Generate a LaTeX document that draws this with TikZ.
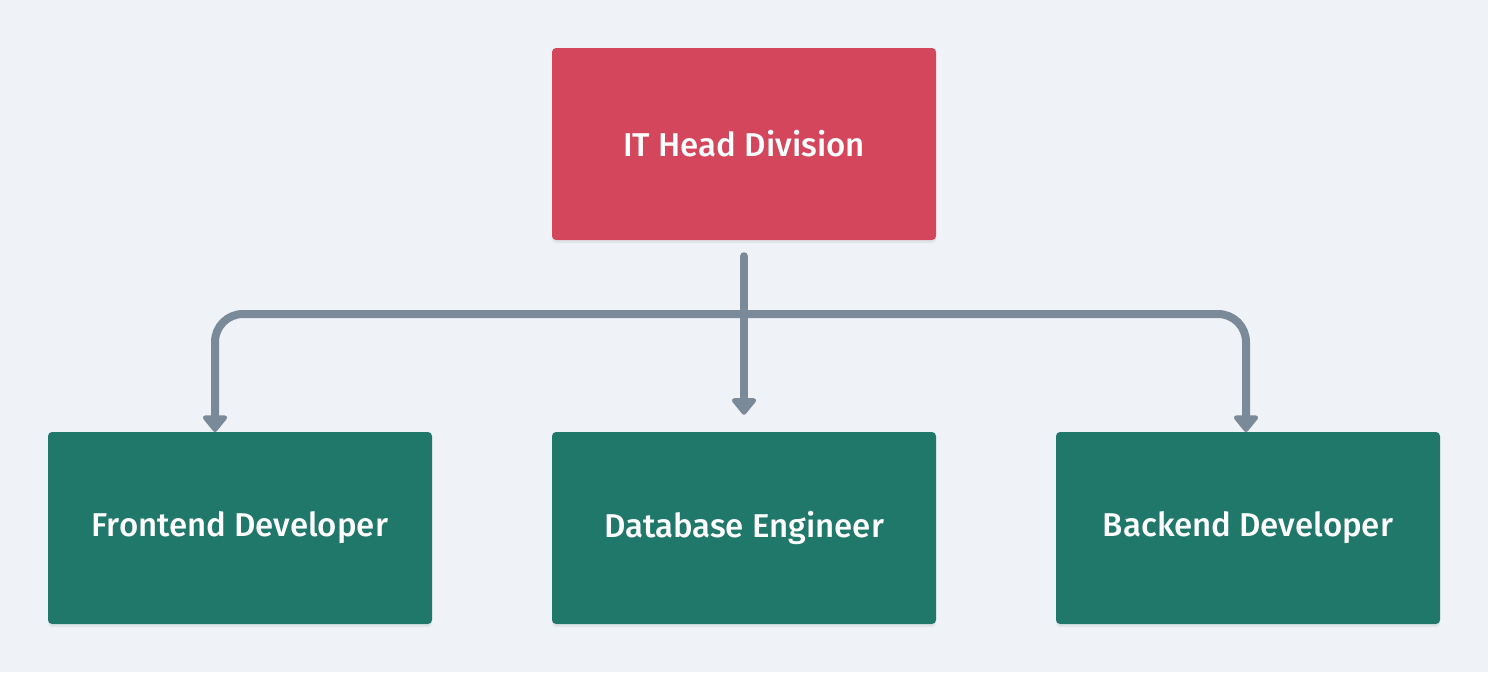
\documentclass[tikz,border=0pt]{standalone}
\usepackage{fontspec}
\setmainfont{Fira Sans}[UprightFont={* Medium}]
\usetikzlibrary{arrows.meta,shadows}
\definecolor{bgc}{HTML}{EFF3F7}
\definecolor{headred}{HTML}{D4465C}
\definecolor{teamgreen}{HTML}{20786A}
\definecolor{linegray}{HTML}{7A8A99}
\tikzset{
  box/.style={rounded corners=4pt, minimum width=384pt, minimum height=192pt,
    inner sep=0pt, text=white, font=\fontsize{33}{38}\selectfont,
    drop shadow={opacity=0.12, shadow xshift=0pt, shadow yshift=-3pt}},
  headbox/.style={box, fill=headred},
  teambox/.style={box, fill=teamgreen},
  conn/.style={draw=linegray, line width=8pt, line cap=round,
    -{Triangle[width=28pt,length=18pt,round]}}
}
\begin{document}
\begin{tikzpicture}[x=1pt,y=-1pt]
\fill[bgc] (0,0) rectangle (1488,672);
\useasboundingbox (0,0) rectangle (1488,672);
\node[headbox] (head) at (744,144) {IT Head Division};
\node[teambox] (fe) at (240,528) {Frontend Developer};
\node[teambox] (db) at (744,528) {Database Engineer};
\node[teambox] (be) at (1248,528) {Backend Developer};
\coordinate (j) at (744,314);
\coordinate (ftop) at (215,432);
\coordinate (btop) at (1246,432);
\draw[conn] ([yshift=-16pt]head.south) -- ([yshift=17pt]db.north);
\draw[conn, rounded corners=28pt, line cap=butt] (j) -| (ftop);
\draw[conn, rounded corners=28pt, line cap=butt] (j) -| (btop);
\end{tikzpicture}
\end{document}
